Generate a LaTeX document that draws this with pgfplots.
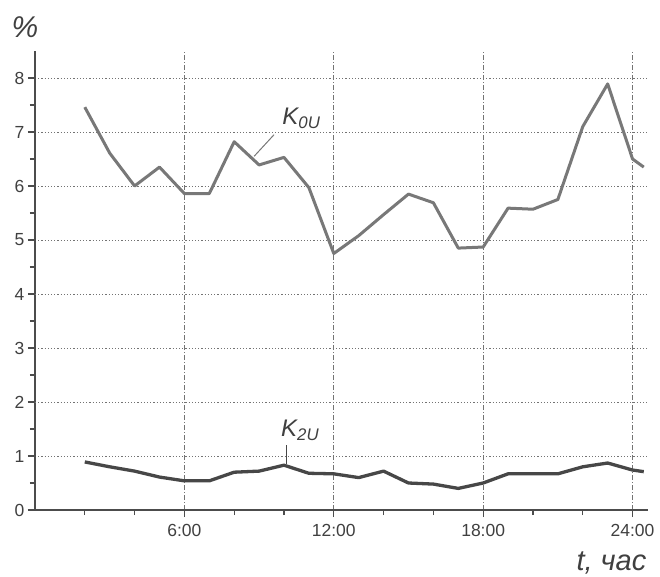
\documentclass[border=0pt]{standalone}
\usepackage{fontspec}
\setmainfont{Liberation Sans}
\usepackage{pgfplots}
\pgfplotsset{compat=1.18}
\definecolor{kzero}{gray}{0.47}
\definecolor{ktwo}{gray}{0.28}
\definecolor{axc}{gray}{0.3}
\definecolor{gridc}{gray}{0.45}
\begin{document}
\begin{tikzpicture}
\useasboundingbox (-35pt,-66pt) rectangle (625pt,510pt);
\begin{axis}[
  scale only axis,
  width=612.5pt, height=459pt,
  xmin=0, xmax=24.6, ymin=0, ymax=8.5,
  axis x line*=bottom, axis y line*=left,
  axis line style={axc, line width=1.6pt},
  clip=false,
  xtick={6,12,18,24}, xticklabels={6:00,12:00,18:00,24:00},
  minor xtick={2,4,8,10,14,16,20,22},
  ytick={0,1,3,5,6,7,8},
  extra y ticks={2,4},
  extra y tick style={major grid style={gridc, line width=0.8pt, dash pattern=on 6pt off 2pt on 1pt off 2pt}},
  minor ytick={0.5,1.5,...,7.5},
  tick align=outside,
  major tick length=7pt, minor tick length=5pt,
  every tick/.style={axc, line width=1.3pt},
  xmajorgrids, ymajorgrids,
  x grid style={gridc, line width=0.8pt, dash pattern=on 5pt off 2pt on 1pt off 2pt},
  y grid style={gridc, line width=0.8pt, dash pattern=on 1.2pt off 2pt},
  tick label style={font=\fontsize{17.5}{20}\selectfont, text=black!75},
  /pgf/number format/assume math mode=true,
  xticklabel style={yshift=-4pt},
]
\addplot[kzero, line width=3pt, line join=round] coordinates {
 (2,7.46) (3,6.61) (4,6.0) (5,6.35) (6,5.86) (7,5.86) (8,6.82) (9,6.39)
 (10,6.53) (11,5.97) (12,4.75) (13,5.08) (14,5.47) (15,5.85) (16,5.69)
 (17,4.85) (18,4.87) (19,5.59) (20,5.57) (21,5.75) (22,7.1) (23,7.89)
 (24,6.5) (24.45,6.35)
};
\addplot[ktwo, line width=3.3pt, line join=round] coordinates {
 (2,0.89) (3,0.8) (4,0.72) (5,0.61) (6,0.54) (7,0.54) (8,0.7) (9,0.72)
 (10,0.83) (11,0.68) (12,0.67) (13,0.6) (14,0.72) (15,0.5) (16,0.48)
 (17,0.4) (18,0.5) (19,0.67) (20,0.67) (21,0.67) (22,0.8) (23,0.87)
 (24,0.74) (24.45,0.71)
};
\draw[kzero, line width=1pt] (axis cs:9.6,6.95) -- (axis cs:8.8,6.55);
\node[text=black!75, font=\fontsize{24}{28}\selectfont\itshape] at (axis cs:10.7,7.25) {K\textsubscript{0U}};
\draw[ktwo, line width=1pt] (axis cs:10.1,1.2) -- (axis cs:10.1,0.86);
\node[text=black!75, font=\fontsize{24}{28}\selectfont\itshape] at (axis cs:10.65,1.47) {K\textsubscript{2U}};
\node[text=black!75, font=\fontsize{30}{34}\selectfont\itshape] at (axis cs:-0.4,8.95) {\%};
\node[text=black!75, font=\fontsize{29}{32}\selectfont\itshape] at (axis cs:23.15,-0.98) {t, час};
\end{axis}
\end{tikzpicture}
\end{document}
